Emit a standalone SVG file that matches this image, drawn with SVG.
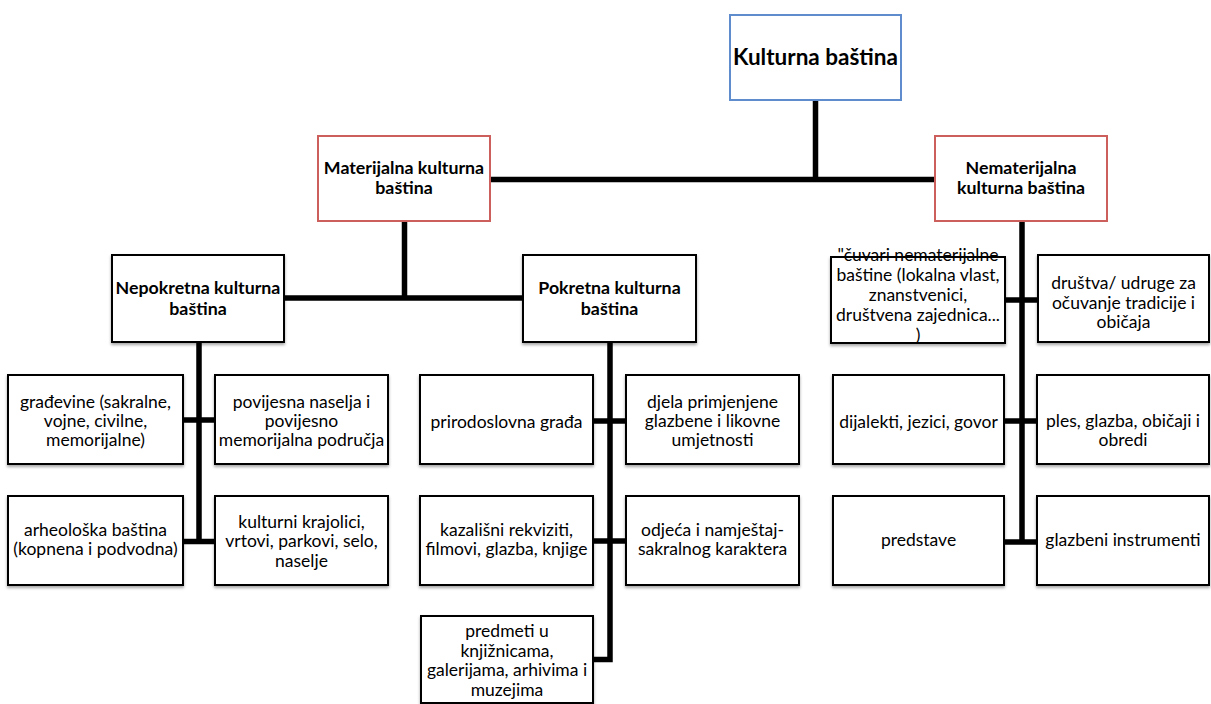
<svg xmlns="http://www.w3.org/2000/svg" width="1211" height="704" viewBox="0 0 1211 704">
<defs>
<filter id="sh" x="-10%" y="-10%" width="120%" height="130%">
<feDropShadow dx="0" dy="2" stdDeviation="1.5" flood-color="#000" flood-opacity="0.35"/>
</filter>
<style>
.bx{fill:#fff;stroke:#000;stroke-width:2}
.bo{fill:none;stroke:#000;stroke-width:2}
.blue{fill:#fff;stroke:#5f8ccc;stroke-width:2}
.red{fill:#fff;stroke:#cc5e5c;stroke-width:2}
text{font-family:Lato,"Liberation Sans",sans-serif;font-size:17.5px;fill:#000;text-anchor:middle}
.b{font-weight:bold;font-size:17.8px}
.conn{fill:none;stroke:#000;stroke-width:5.5}
</style>
</defs>
<rect width="1211" height="704" fill="#fff"/>
<g id="connectors">
<path class="conn" d="M815.5,100 V182 M490,179.5 H935"/>
<path class="conn" d="M404.5,221 V300 M284,298 H523"/>
<path class="conn" d="M199,342 V544 M183,420 H215 M183,541.5 H215"/>
<path class="conn" d="M593,421 H626 M593,541 H626 M610,342 V659.5 H593"/>
<path class="conn" d="M1022,221 V544 M1005,300 H1038 M1004,421 H1037 M1004,542 H1037"/>
</g>
<g id="n-kulturna">
<rect class="blue" x="730" y="15" width="171" height="85"/>
<text class="b" x="815.5" y="65" style="font-size:22.5px">Kulturna baština</text>
</g>
<g id="n-materijalna">
<rect class="red" x="318" y="136" width="172" height="85"/>
<text class="b" x="404" y="174">Materijalna kulturna</text>
<text class="b" x="404" y="194">baština</text>
</g>
<g id="n-nematerijalna">
<rect class="red" x="935" y="136" width="172" height="85"/>
<text class="b" x="1021" y="174">Nematerijalna</text>
<text class="b" x="1021" y="194">kulturna baština</text>
</g>
<g id="n-nepokretna">
<rect class="bx" filter="url(#sh)" x="112" y="255" width="172" height="87"/>
<text class="b" x="198" y="294">Nepokretna kulturna</text>
<text class="b" x="198" y="314.5">baština</text>
</g>
<g id="n-pokretna">
<rect class="bx" filter="url(#sh)" x="523" y="255" width="173" height="87"/>
<text class="b" x="609.5" y="294">Pokretna kulturna</text>
<text class="b" x="609.5" y="314.5">baština</text>
</g>
<g id="n-gradevine">
<rect class="bx" filter="url(#sh)" x="8" y="375" width="175" height="89"/>
<text x="95.5" y="408">građevine (sakralne,</text>
<text x="95.5" y="427">vojne, civilne,</text>
<text x="95.5" y="446">memorijalne)</text>
</g>
<g id="n-povijesna">
<rect class="bx" filter="url(#sh)" x="215" y="375" width="173" height="89"/>
<text x="301.5" y="408">povijesna naselja i</text>
<text x="301.5" y="427">povijesno</text>
<text x="301.5" y="446">memorijalna područja</text>
</g>
<g id="n-arheoloska">
<rect class="bx" filter="url(#sh)" x="8" y="496" width="175" height="89"/>
<text x="95.5" y="535.5">arheološka baština</text>
<text x="95.5" y="554.5">(kopnena i podvodna)</text>
</g>
<g id="n-krajolici">
<rect class="bx" filter="url(#sh)" x="215" y="496" width="173" height="89"/>
<text x="301.5" y="527.5">kulturni krajolici,</text>
<text x="301.5" y="547">vrtovi, parkovi, selo,</text>
<text x="301.5" y="566.5">naselje</text>
</g>
<g id="n-prirodoslovna">
<rect class="bx" filter="url(#sh)" x="420" y="375" width="173" height="89"/>
<text x="506.5" y="428">prirodoslovna građa</text>
</g>
<g id="n-djela">
<rect class="bx" filter="url(#sh)" x="626" y="375" width="173" height="89"/>
<text x="712.5" y="408">djela primjenjene</text>
<text x="712.5" y="427">glazbene i likovne</text>
<text x="712.5" y="446">umjetnosti</text>
</g>
<g id="n-kazalisni">
<rect class="bx" filter="url(#sh)" x="420" y="496" width="173" height="89"/>
<text x="506.5" y="535.5">kazališni rekviziti,</text>
<text x="506.5" y="555">filmovi, glazba, knjige</text>
</g>
<g id="n-odjeca">
<rect class="bx" filter="url(#sh)" x="626" y="496" width="173" height="89"/>
<text x="712.5" y="535.5">odjeća i namještaj-</text>
<text x="712.5" y="555">sakralnog karaktera</text>
</g>
<g id="n-predmeti">
<rect class="bx" filter="url(#sh)" x="421" y="616" width="172" height="87"/>
<text x="507" y="636.5">predmeti u</text>
<text x="507" y="656.5">knjižnicama,</text>
<text x="507" y="676">galerijama, arhivima i</text>
<text x="507" y="695.5">muzejima</text>
</g>
<g id="n-cuvari">
<rect class="bx" filter="url(#sh)" x="831" y="257" width="174" height="86"/>
<text x="918" y="261">"čuvari nematerijalne</text>
<text x="918" y="281">baštine (lokalna vlast,</text>
<text x="918" y="301">znanstvenici,</text>
<text x="918" y="321">društvena zajednica...</text>
<text x="918" y="341">)</text>
<rect class="bo" x="831" y="257" width="174" height="86"/>
</g>
<g id="n-drustva">
<rect class="bx" filter="url(#sh)" x="1038" y="255" width="171" height="87"/>
<text x="1123.5" y="289">društva/ udruge za</text>
<text x="1123.5" y="308.5">očuvanje tradicije i</text>
<text x="1123.5" y="328">običaja</text>
</g>
<g id="n-dijalekti">
<rect class="bx" filter="url(#sh)" x="833" y="375" width="171" height="89"/>
<text x="918.5" y="428">dijalekti, jezici, govor</text>
</g>
<g id="n-ples">
<rect class="bx" filter="url(#sh)" x="1037" y="375" width="172" height="89"/>
<text x="1123" y="427">ples, glazba, običaji i</text>
<text x="1123" y="446">obredi</text>
</g>
<g id="n-predstave">
<rect class="bx" filter="url(#sh)" x="833" y="496" width="171" height="89"/>
<text x="918.5" y="546">predstave</text>
</g>
<g id="n-glazbeni">
<rect class="bx" filter="url(#sh)" x="1037" y="496" width="172" height="89"/>
<text x="1123" y="546">glazbeni instrumenti</text>
</g>
</svg>
